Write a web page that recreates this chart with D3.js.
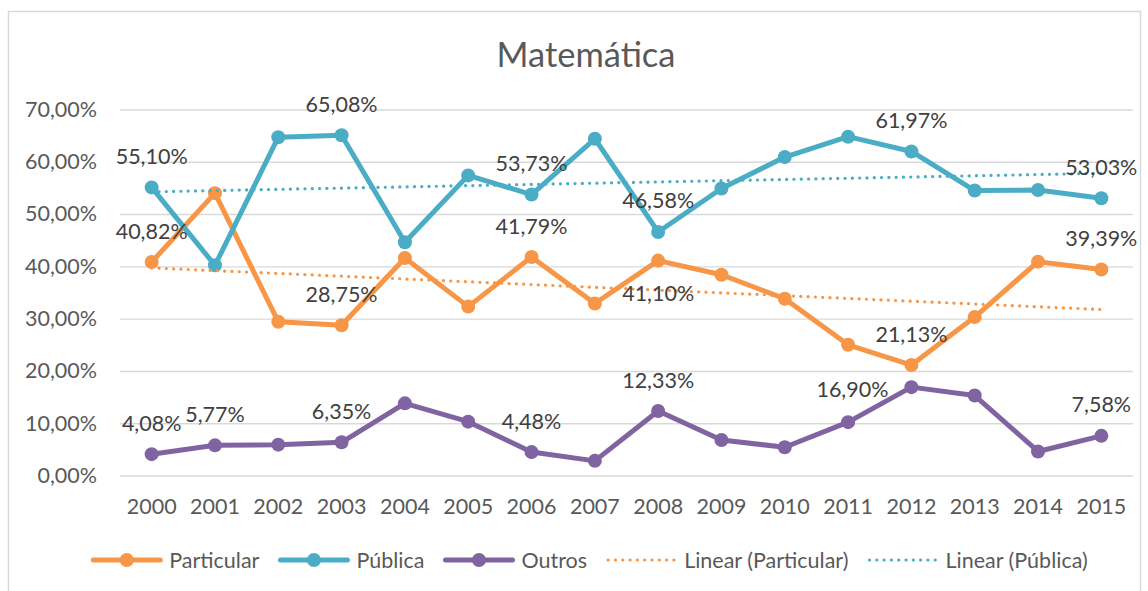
<!DOCTYPE html>
<html>
<head>
<meta charset="utf-8">
<script src="https://cdn.jsdelivr.net/npm/d3@7"></script>
<style>
    body { margin: 0; background: #fff; }
    svg { display: block; }
    text { font-family: Lato, "Open Sans", sans-serif; }
</style>
</head>
<body>
<svg id="chart" width="1148" height="591"></svg>
<script>
// values (percent)
const years = ["2000", "2001", "2002", "2003", "2004", "2005", "2006", "2007",
               "2008", "2009", "2010", "2011", "2012", "2013", "2014", "2015"];
const particular = [40.82, 54.0, 29.4, 28.75, 41.6, 32.3, 41.79, 32.9, 41.10, 38.4, 33.8, 25.0, 21.13, 30.3, 40.9, 39.39];
const publica    = [55.10, 40.2, 64.7, 65.08, 44.6, 57.4, 53.73, 64.4, 46.58, 54.9, 60.9, 64.8, 61.97, 54.5, 54.6, 53.03];
const outros     = [4.08, 5.77, 5.9, 6.35, 13.8, 10.3, 4.48, 2.8, 12.33, 6.8, 5.4, 10.2, 16.90, 15.3, 4.6, 7.58];
const yTicks = [0, 10, 20, 30, 40, 50, 60, 70];

const seriesNames = ["Particular", "Pública", "Outros"];
const seriesColors = ["#f79646", "#4bacc6", "#8064a2"];

// which points carry a data label, and where
const labelsParticular = [[0, "above"], [3, "above"], [6, "above"], [8, "below"], [12, "above"], [15, "above"]];
const labelsPublica    = [[0, "above"], [3, "above"], [6, "above"], [8, "above"], [12, "above"], [15, "above"]];
const labelsOutros     = [[0, "above"], [1, "above"], [3, "above"], [6, "above"], [8, "above"], [12, "left"], [15, "above"]];

const margin = {top: 109.5, right: 15, bottom: 115.5, left: 120};
const innerWidth = 1133 - margin.left;
const innerHeight = 475.5 - margin.top;
const fontSize = "21.5px";

const pct = v => d3.format(".2f")(v).replace(".", ",") + "%";

const svg = d3.select("#chart");

// outer chart border (bottom edge falls outside the picture)
svg.append("path")
    .attr("d", "M8.5,591V11.5H1140.5V591")
    .attr("fill", "none")
    .attr("stroke", "#d9d9d9")
    .attr("stroke-width", 1.5);

const g = svg.append("g").attr("transform", `translate(${margin.left},${margin.top})`);

const x = d3.scaleBand().domain(years).range([0, innerWidth]).padding(0);
const y = d3.scaleLinear().domain([0, 70]).range([innerHeight, 0]);
const cx = i => x(years[i]) + x.bandwidth() / 2;

// gridlines
const grid = g.append("g")
    .call(d3.axisLeft(y).tickValues(yTicks).tickSize(-innerWidth).tickFormat(""));
grid.select(".domain").remove();
grid.selectAll("line").attr("stroke", "#d9d9d9").attr("stroke-width", 1.4);

// y axis labels
const yAxis = g.append("g")
    .call(d3.axisLeft(y).tickValues(yTicks).tickSize(0).tickPadding(23).tickFormat(pct));
yAxis.select(".domain").remove();
yAxis.selectAll("text").attr("fill", "#595959").style("font-size", fontSize);

// x axis labels
const xAxis = g.append("g")
    .attr("transform", `translate(0,${innerHeight})`)
    .call(d3.axisBottom(x).tickSize(0).tickPadding(23));
xAxis.select(".domain").remove();
xAxis.selectAll("text").attr("fill", "#595959").style("font-size", fontSize);

// linear trend (least squares, like the spreadsheet's trendline)
function linearFit(vals) {
    const n = vals.length;
    const mx = d3.mean(vals, (v, i) => i);
    const my = d3.mean(vals);
    let sxy = 0, sxx = 0;
    vals.forEach((v, i) => { sxy += (i - mx) * (v - my); sxx += (i - mx) * (i - mx); });
    const b = sxy / sxx;
    return [[0, my - b * mx], [n - 1, my + b * (n - 1 - mx)]];
}

const line = d3.line().x(d => cx(d[0])).y(d => y(d[1]));

const allSeries = [particular, publica, outros];
const allLabels = [labelsParticular, labelsPublica, labelsOutros];

// series lines and markers
allSeries.forEach((vals, s) => {
    const pts = vals.map((v, i) => [i, v]);
    g.append("path")
        .datum(pts)
        .attr("d", line)
        .attr("fill", "none")
        .attr("stroke", seriesColors[s])
        .attr("stroke-width", 5)
        .attr("stroke-linejoin", "round");
    g.append("g").selectAll("circle")
        .data(pts)
        .enter()
        .append("circle")
        .attr("cx", d => cx(d[0]))
        .attr("cy", d => y(d[1]))
        .attr("r", 7)
        .attr("fill", seriesColors[s]);
});

// trendlines for Particular and Pública
[particular, publica].forEach((vals, s) => {
    g.append("path")
        .datum(linearFit(vals))
        .attr("d", line)
        .attr("fill", "none")
        .attr("stroke", seriesColors[s])
        .attr("stroke-width", 3.2)
        .attr("stroke-linecap", "round")
        .attr("stroke-dasharray", "0.1 7.2");
});

// data labels
allLabels.forEach((lab, s) => {
    g.append("g").selectAll("text")
        .data(lab)
        .enter()
        .append("text")
        .attr("x", d => d[1] === "left" ? cx(d[0]) - 23 : cx(d[0]))
        .attr("y", d => {
            const py = y(allSeries[s][d[0]]);
            if (d[1] === "above") return py - 31;
            if (d[1] === "below") return py + 33;
            return py + 2;
        })
        .attr("dy", "0.35em")
        .attr("text-anchor", d => d[1] === "left" ? "end" : "middle")
        .attr("fill", "#404040")
        .style("font-size", fontSize)
        .text(d => pct(allSeries[s][d[0]]));
});

// title
const title = svg.append("text")
    .attr("x", 586)
    .attr("y", 55)
    .attr("dy", "0.35em")
    .attr("text-anchor", "middle")
    .attr("fill", "#595959")
    .style("font-size", "31px")
    .text("Matemática");
const tw = title.node().getComputedTextLength();
title.style("font-size", (31 * 179 / tw) + "px");

// legend
const legendItems = [
    {name: seriesNames[0], color: seriesColors[0], trend: false},
    {name: seriesNames[1], color: seriesColors[1], trend: false},
    {name: seriesNames[2], color: seriesColors[2], trend: false},
    {name: "Linear (" + seriesNames[0] + ")", color: seriesColors[0], trend: true},
    {name: "Linear (" + seriesNames[1] + ")", color: seriesColors[1], trend: true}
];
const legend = svg.append("g").attr("transform", "translate(0,560)");
const swatchW = 71, gapText = 7, gapItem = 19;
let items = legendItems.map(d => {
    const t = legend.append("text")
        .attr("dy", "0.35em")
        .attr("fill", "#595959")
        .style("font-size", fontSize)
        .text(d.name);
    return {d: d, t: t, w: t.node().getComputedTextLength()};
});
const total = d3.sum(items, it => swatchW + gapText + it.w) + gapItem * (items.length - 1);
let lx = 589.5 - total / 2;
items.forEach(it => {
    if (it.d.trend) {
        legend.append("line")
            .attr("x1", lx + 2).attr("x2", lx + swatchW - 2)
            .attr("stroke", it.d.color)
            .attr("stroke-width", 3.2)
            .attr("stroke-linecap", "round")
            .attr("stroke-dasharray", "0.1 7.2");
    } else {
        legend.append("line")
            .attr("x1", lx + 2).attr("x2", lx + swatchW - 2)
            .attr("stroke", it.d.color)
            .attr("stroke-width", 5)
            .attr("stroke-linecap", "round");
        legend.append("circle")
            .attr("cx", lx + swatchW / 2)
            .attr("r", 7)
            .attr("fill", it.d.color);
    }
    it.t.attr("x", lx + swatchW + gapText);
    lx += swatchW + gapText + it.w + gapItem;
});
</script>
</body>
</html>
